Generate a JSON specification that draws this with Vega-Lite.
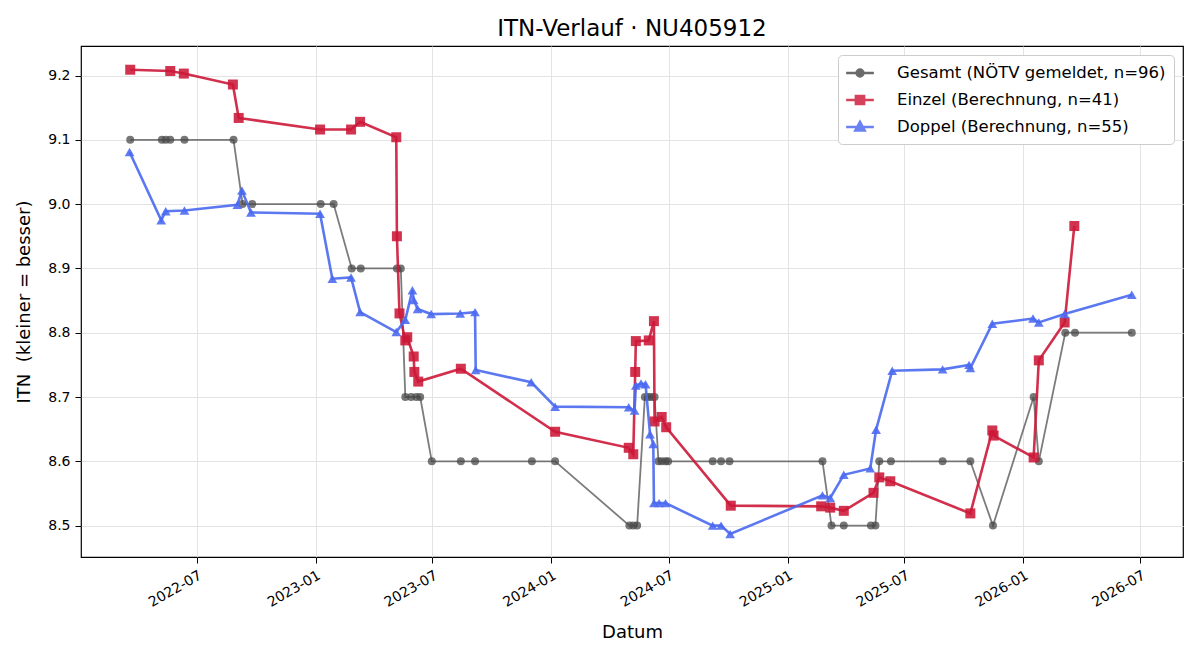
{
  "$schema": "https://vega.github.io/schema/vega-lite/v6.json",
  "width": 1102,
  "height": 511,
  "autosize": {"type": "none"},
  "padding": {"left": 81, "top": 46, "right": 17, "bottom": 103},
  "background": "white",
  "title": {"text": "ITN-Verlauf · NU405912", "font": "DejaVu Sans", "fontSize": 23, "fontWeight": "normal", "color": "black", "offset": 5},
  "config": {
    "font": "DejaVu Sans",
    "view": {"stroke": "black", "strokeWidth": 1.2},
    "axis": {
      "domain": false,
      "grid": true,
      "gridColor": "#e3e3e3",
      "gridWidth": 1,
      "tickColor": "black",
      "tickSize": 6,
      "tickWidth": 1,
      "labelColor": "black",
      "labelFont": "DejaVu Sans",
      "labelFontSize": 14,
      "labelPadding": 5,
      "titleFont": "DejaVu Sans",
      "titleFontSize": 18,
      "titleFontWeight": "normal",
      "titleColor": "black"
    }
  },
  "data": {"values": [
    {"s":"G","d":"2022-03-20","v":9.1},
    {"s":"G","d":"2022-05-08","v":9.1},
    {"s":"G","d":"2022-05-14","v":9.1},
    {"s":"G","d":"2022-05-21","v":9.1},
    {"s":"G","d":"2022-06-12","v":9.1},
    {"s":"G","d":"2022-08-27","v":9.1},
    {"s":"G","d":"2022-09-10","v":9.0},
    {"s":"G","d":"2022-09-25","v":9.0},
    {"s":"G","d":"2023-01-09","v":9.0},
    {"s":"G","d":"2023-01-29","v":9.0},
    {"s":"G","d":"2023-02-26","v":8.9},
    {"s":"G","d":"2023-03-12","v":8.9},
    {"s":"G","d":"2023-05-07","v":8.9},
    {"s":"G","d":"2023-05-13","v":8.9},
    {"s":"G","d":"2023-05-20","v":8.7},
    {"s":"G","d":"2023-05-29","v":8.7},
    {"s":"G","d":"2023-06-06","v":8.7},
    {"s":"G","d":"2023-06-12","v":8.7},
    {"s":"G","d":"2023-06-30","v":8.6},
    {"s":"G","d":"2023-08-14","v":8.6},
    {"s":"G","d":"2023-09-05","v":8.6},
    {"s":"G","d":"2023-12-02","v":8.6},
    {"s":"G","d":"2024-01-07","v":8.6},
    {"s":"G","d":"2024-05-01","v":8.5},
    {"s":"G","d":"2024-05-07","v":8.5},
    {"s":"G","d":"2024-05-13","v":8.5},
    {"s":"G","d":"2024-05-25","v":8.7},
    {"s":"G","d":"2024-05-30","v":8.7},
    {"s":"G","d":"2024-06-04","v":8.7},
    {"s":"G","d":"2024-06-09","v":8.7},
    {"s":"G","d":"2024-06-15","v":8.6},
    {"s":"G","d":"2024-06-20","v":8.6},
    {"s":"G","d":"2024-06-26","v":8.6},
    {"s":"G","d":"2024-06-30","v":8.6},
    {"s":"G","d":"2024-09-07","v":8.6},
    {"s":"G","d":"2024-09-20","v":8.6},
    {"s":"G","d":"2024-10-03","v":8.6},
    {"s":"G","d":"2025-02-24","v":8.6},
    {"s":"G","d":"2025-03-10","v":8.5},
    {"s":"G","d":"2025-03-29","v":8.5},
    {"s":"G","d":"2025-05-10","v":8.5},
    {"s":"G","d":"2025-05-17","v":8.5},
    {"s":"G","d":"2025-05-23","v":8.6},
    {"s":"G","d":"2025-06-10","v":8.6},
    {"s":"G","d":"2025-08-29","v":8.6},
    {"s":"G","d":"2025-10-11","v":8.6},
    {"s":"G","d":"2025-11-15","v":8.5},
    {"s":"G","d":"2026-01-17","v":8.7},
    {"s":"G","d":"2026-01-25","v":8.6},
    {"s":"G","d":"2026-03-07","v":8.8},
    {"s":"G","d":"2026-03-22","v":8.8},
    {"s":"G","d":"2026-06-18","v":8.8},
    {"s":"E","d":"2022-03-20","v":9.209},
    {"s":"E","d":"2022-05-21","v":9.207},
    {"s":"E","d":"2022-06-11","v":9.203},
    {"s":"E","d":"2022-08-26","v":9.186},
    {"s":"E","d":"2022-09-04","v":9.134},
    {"s":"E","d":"2023-01-08","v":9.116},
    {"s":"E","d":"2023-02-25","v":9.116},
    {"s":"E","d":"2023-03-11","v":9.128},
    {"s":"E","d":"2023-05-06","v":9.104},
    {"s":"E","d":"2023-05-07","v":8.950},
    {"s":"E","d":"2023-05-11","v":8.830},
    {"s":"E","d":"2023-05-20","v":8.788},
    {"s":"E","d":"2023-05-23","v":8.793},
    {"s":"E","d":"2023-06-02","v":8.763},
    {"s":"E","d":"2023-06-03","v":8.739},
    {"s":"E","d":"2023-06-09","v":8.724},
    {"s":"E","d":"2023-08-14","v":8.744},
    {"s":"E","d":"2024-01-07","v":8.646},
    {"s":"E","d":"2024-04-30","v":8.621},
    {"s":"E","d":"2024-05-07","v":8.611},
    {"s":"E","d":"2024-05-10","v":8.739},
    {"s":"E","d":"2024-05-11","v":8.787},
    {"s":"E","d":"2024-05-31","v":8.788},
    {"s":"E","d":"2024-06-08","v":8.818},
    {"s":"E","d":"2024-06-09","v":8.662},
    {"s":"E","d":"2024-06-20","v":8.669},
    {"s":"E","d":"2024-06-27","v":8.653},
    {"s":"E","d":"2024-10-05","v":8.531},
    {"s":"E","d":"2025-02-22","v":8.530},
    {"s":"E","d":"2025-03-08","v":8.528},
    {"s":"E","d":"2025-03-29","v":8.523},
    {"s":"E","d":"2025-05-14","v":8.551},
    {"s":"E","d":"2025-05-23","v":8.575},
    {"s":"E","d":"2025-06-09","v":8.569},
    {"s":"E","d":"2025-10-11","v":8.519},
    {"s":"E","d":"2025-11-14","v":8.648},
    {"s":"E","d":"2025-11-16","v":8.640},
    {"s":"E","d":"2026-01-17","v":8.606},
    {"s":"E","d":"2026-01-25","v":8.757},
    {"s":"E","d":"2026-03-06","v":8.816},
    {"s":"E","d":"2026-03-21","v":8.966},
    {"s":"D","d":"2022-03-19","v":9.081},
    {"s":"D","d":"2022-05-07","v":8.975},
    {"s":"D","d":"2022-05-14","v":8.989},
    {"s":"D","d":"2022-06-12","v":8.990},
    {"s":"D","d":"2022-09-02","v":8.999},
    {"s":"D","d":"2022-09-09","v":9.021},
    {"s":"D","d":"2022-09-23","v":8.987},
    {"s":"D","d":"2023-01-08","v":8.985},
    {"s":"D","d":"2023-01-27","v":8.884},
    {"s":"D","d":"2023-02-25","v":8.886},
    {"s":"D","d":"2023-03-11","v":8.832},
    {"s":"D","d":"2023-05-06","v":8.801},
    {"s":"D","d":"2023-05-20","v":8.820},
    {"s":"D","d":"2023-05-31","v":8.866},
    {"s":"D","d":"2023-06-02","v":8.851},
    {"s":"D","d":"2023-06-08","v":8.837},
    {"s":"D","d":"2023-06-29","v":8.829},
    {"s":"D","d":"2023-08-13","v":8.830},
    {"s":"D","d":"2023-09-05","v":8.832},
    {"s":"D","d":"2023-09-06","v":8.742},
    {"s":"D","d":"2023-12-01","v":8.723},
    {"s":"D","d":"2024-01-07","v":8.685},
    {"s":"D","d":"2024-04-30","v":8.684},
    {"s":"D","d":"2024-05-09","v":8.679},
    {"s":"D","d":"2024-05-11","v":8.718},
    {"s":"D","d":"2024-05-19","v":8.721},
    {"s":"D","d":"2024-05-26","v":8.720},
    {"s":"D","d":"2024-06-02","v":8.642},
    {"s":"D","d":"2024-06-07","v":8.627},
    {"s":"D","d":"2024-06-08","v":8.535},
    {"s":"D","d":"2024-06-16","v":8.535},
    {"s":"D","d":"2024-06-26","v":8.535},
    {"s":"D","d":"2024-09-07","v":8.500},
    {"s":"D","d":"2024-09-20","v":8.500},
    {"s":"D","d":"2024-10-04","v":8.487},
    {"s":"D","d":"2025-02-24","v":8.547},
    {"s":"D","d":"2025-03-08","v":8.543},
    {"s":"D","d":"2025-03-29","v":8.579},
    {"s":"D","d":"2025-05-09","v":8.589},
    {"s":"D","d":"2025-05-18","v":8.649},
    {"s":"D","d":"2025-06-12","v":8.741},
    {"s":"D","d":"2025-08-29","v":8.743},
    {"s":"D","d":"2025-10-09","v":8.750},
    {"s":"D","d":"2025-10-11","v":8.745},
    {"s":"D","d":"2025-11-14","v":8.814},
    {"s":"D","d":"2026-01-16","v":8.822},
    {"s":"D","d":"2026-01-25","v":8.816},
    {"s":"D","d":"2026-03-06","v":8.829},
    {"s":"D","d":"2026-06-18","v":8.859}
  ]},
  "encoding": {
    "x": {
      "field": "d", "type": "temporal",
      "scale": {"type": "utc", "domain": [
        {"year": 2022, "month": 1, "date": 2, "hours": 19, "utc": true},
        {"year": 2026, "month": 9, "date": 5, "hours": 7, "utc": true}
      ]},
      "axis": {
        "title": "Datum",
        "titlePadding": 14,
        "labelExpr": "utcFormat(datum.value, '%Y-%m')",
        "labelAngle": -30,
        "labelAlign": "right",
        "labelBaseline": "top",
        "values": [
          {"year": 2022, "month": 7, "date": 1, "utc": true},
          {"year": 2023, "month": 1, "date": 1, "utc": true},
          {"year": 2023, "month": 7, "date": 1, "utc": true},
          {"year": 2024, "month": 1, "date": 1, "utc": true},
          {"year": 2024, "month": 7, "date": 1, "utc": true},
          {"year": 2025, "month": 1, "date": 1, "utc": true},
          {"year": 2025, "month": 7, "date": 1, "utc": true},
          {"year": 2026, "month": 1, "date": 1, "utc": true},
          {"year": 2026, "month": 7, "date": 1, "utc": true}
        ]
      }
    },
    "y": {
      "field": "v", "type": "quantitative",
      "scale": {"domain": [8.4512, 9.2459], "zero": false, "nice": false},
      "axis": {
        "title": "ITN\u00a0 (kleiner = besser)",
        "titlePadding": 14,
        "format": ".1f",
        "values": [8.5, 8.6, 8.7, 8.8, 8.9, 9.0, 9.1, 9.2]
      }
    }
  },
  "layer": [
    {
      "mark": {"type": "point", "filled": false, "opacity": 0},
      "encoding": {
        "color": {
          "field": "s", "type": "nominal",
          "scale": {"domain": ["G", "E", "D"], "range": ["#4a4a4a", "#cc1838", "#4a69f0"]},
          "legend": {
            "title": null,
            "orient": "top-right",
            "offset": 9,
            "padding": 8,
            "fillColor": "white",
            "strokeColor": "#cccccc",
            "cornerRadius": 4,
            "labelFont": "DejaVu Sans",
            "labelFontSize": 16.5,
            "labelColor": "black",
            "labelLimit": 500,
            "labelOffset": 27,
            "symbolOffset": 4,
            "symbolSize": 300,
            "symbolStrokeWidth": 2.4,
            "symbolOpacity": 0.82,
            "rowPadding": 8,
            "labelExpr": "datum.value === 'G' ? 'Gesamt (NÖTV gemeldet, n=96)' : datum.value === 'E' ? 'Einzel (Berechnung, n=41)' : 'Doppel (Berechnung, n=55)'"
          }
        },
        "shape": {
          "field": "s", "type": "nominal",
          "scale": {"domain": ["G", "E", "D"], "range": [
            "M-1.6,0H1.6M0.4,0A0.4,0.4,0,1,1,-0.4,0A0.4,0.4,0,1,1,0.4,0M0.22,0A0.22,0.22,0,1,1,-0.22,0A0.22,0.22,0,1,1,0.22,0M0.06,0A0.06,0.06,0,1,1,-0.06,0A0.06,0.06,0,1,1,0.06,0",
            "M-1.6,0H1.6M-0.48,-0.48H0.48V0.48H-0.48ZM-0.3,-0.3H0.3V0.3H-0.3ZM-0.1,-0.1H0.1V0.1H-0.1Z",
            "M-1.6,0H1.6M0,-0.6L0.55,0.4H-0.55ZM0,-0.32L0.3,0.22H-0.3ZM0,-0.08L0.08,0.06H-0.08Z"
          ]},
          "legend": {
            "title": null,
            "orient": "top-right",
            "offset": 9,
            "padding": 8,
            "fillColor": "white",
            "strokeColor": "#cccccc",
            "cornerRadius": 4,
            "labelFont": "DejaVu Sans",
            "labelFontSize": 16.5,
            "labelColor": "black",
            "labelLimit": 500,
            "labelOffset": 27,
            "symbolOffset": 4,
            "symbolSize": 300,
            "symbolStrokeWidth": 2.4,
            "symbolOpacity": 0.82,
            "rowPadding": 8,
            "labelExpr": "datum.value === 'G' ? 'Gesamt (NÖTV gemeldet, n=96)' : datum.value === 'E' ? 'Einzel (Berechnung, n=41)' : 'Doppel (Berechnung, n=55)'"
          }
        }
      }
    },
    {"transform": [{"filter": "datum.s === 'G'"}], "mark": {"type": "line", "strokeWidth": 1.8, "opacity": 0.72}, "encoding": {"color": {"field": "s", "type": "nominal", "legend": null}}},
    {"transform": [{"filter": "datum.s === 'G'"}], "mark": {"type": "point", "shape": "circle", "filled": true, "size": 64, "opacity": 0.75}, "encoding": {"color": {"field": "s", "type": "nominal", "legend": null}}},
    {"transform": [{"filter": "datum.s === 'E'"}], "mark": {"type": "line", "strokeWidth": 2.6, "opacity": 0.9}, "encoding": {"color": {"field": "s", "type": "nominal", "legend": null}}},
    {"transform": [{"filter": "datum.s === 'E'"}], "mark": {"type": "point", "shape": "square", "filled": true, "size": 100, "opacity": 0.88}, "encoding": {"color": {"field": "s", "type": "nominal", "legend": null}}},
    {"transform": [{"filter": "datum.s === 'D'"}], "mark": {"type": "line", "strokeWidth": 2.6, "opacity": 0.9}, "encoding": {"color": {"field": "s", "type": "nominal", "legend": null}}},
    {"transform": [{"filter": "datum.s === 'D'"}], "mark": {"type": "point", "shape": "triangle-up", "filled": true, "size": 95, "opacity": 0.88}, "encoding": {"color": {"field": "s", "type": "nominal", "legend": null}}}
  ]
}
